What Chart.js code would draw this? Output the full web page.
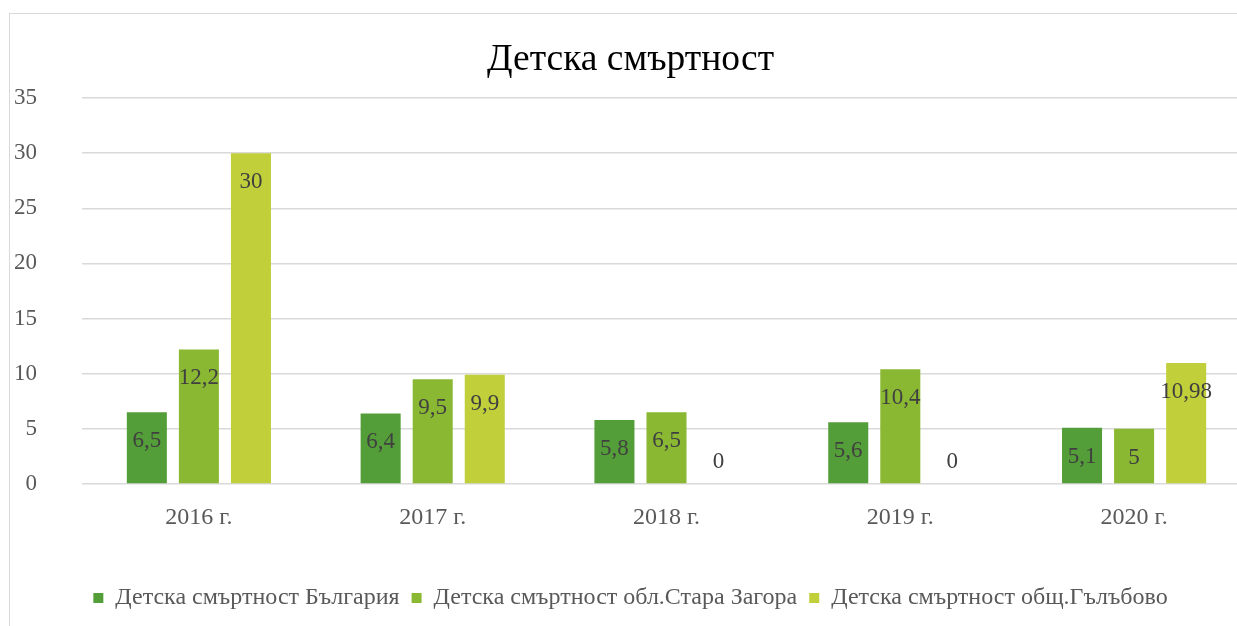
<!DOCTYPE html>
<html>
<head>
<meta charset="utf-8">
<script src="https://cdn.jsdelivr.net/npm/chart.js@4.4.1/dist/chart.umd.min.js"></script>
<style>
  html, body { margin: 0; padding: 0; background: #fff; overflow: hidden; width: 1237px; height: 626px; }
  #frame { position: absolute; left: 9px; top: 13px; width: 1241px; height: 613px;
           border-top: 1px solid #d9d9d9; border-left: 1px solid #d9d9d9; }
  #wrap { position: absolute; left: 0; top: 0; width: 1241px; height: 612px; }
</style>
</head>
<body>
<div id="frame"><div id="wrap"><canvas id="c"></canvas></div></div>
<script>
const categories = ['2016 г.', '2017 г.', '2018 г.', '2019 г.', '2020 г.'];
const seriesNames = ['Детска смъртност България', 'Детска смъртност обл.Стара Загора', 'Детска смъртност общ.Гълъбово'];
const bulgaria = [6.5, 6.4, 5.8, 5.6, 5.1];
const staraZagora = [12.2, 9.5, 6.5, 10.4, 5];
const galabovo = [30, 9.9, 0, 0, 10.98];
const yTicks = [0, 5, 10, 15, 20, 25, 30, 35];
const colors = ['#549E39', '#8AB833', '#C0CF3A'];

const SERIF = '"Liberation Serif", "Times New Roman", serif';
const BOTTOM_GAP = 6;

const dataLabels = {
  id: 'dataLabels',
  afterDatasetsDraw(chart) {
    const ctx = chart.ctx;
    ctx.save();
    ctx.font = '23px ' + SERIF;
    ctx.fillStyle = '#404040';
    ctx.textAlign = 'center';
    ctx.textBaseline = 'middle';
    chart.data.datasets.forEach((ds, i) => {
      const meta = chart.getDatasetMeta(i);
      meta.data.forEach((el, j) => {
        const v = ds.data[j];
        const y = v === 0 ? el.base - 22 : el.y + 29;
        ctx.fillText(String(v).replace('.', ','), el.x, y);
      });
    });
    ctx.restore();
  }
};

new Chart(document.getElementById('c'), {
  type: 'bar',
  data: {
    labels: categories,
    datasets: [
      { label: seriesNames[0], data: bulgaria, backgroundColor: colors[0] },
      { label: seriesNames[1], data: staraZagora, backgroundColor: colors[1] },
      { label: seriesNames[2], data: galabovo, backgroundColor: colors[2] }
    ]
  },
  options: {
    responsive: true,
    maintainAspectRatio: false,
    animation: false,
    layout: { padding: { left: 0, right: 0, top: 0, bottom: BOTTOM_GAP } },
    datasets: { bar: { categoryPercentage: 0.668, barPercentage: 0.769 } },
    plugins: {
      title: {
        display: true,
        text: 'Детска смъртност',
        color: '#000000',
        font: { family: SERIF, size: 37.5, weight: 'normal', lineHeight: 1.2 },
        padding: { top: 24, bottom: 15 }
      },
      legend: {
        position: 'bottom',
        labels: {
          color: '#595959',
          font: { family: SERIF, size: 24 },
          boxWidth: 10, boxHeight: 10,
          padding: 12
        }
      },
      tooltip: { enabled: false }
    },
    scales: {
      x: {
        grid: { display: false, drawTicks: false },
        border: { display: false },
        ticks: { color: '#595959', font: { family: SERIF, size: 24 }, padding: 19 },
        afterFit(scale) {
          const lh = scale.chart.legend ? scale.chart.legend.height : 0;
          scale.height = 612 - 470 - lh - BOTTOM_GAP;
        }
      },
      y: {
        min: 0, max: 35,
        afterBuildTicks(scale) { scale.ticks = yTicks.map(v => ({ value: v })); },
        grid: { color: '#d9d9d9', lineWidth: 1.5, drawTicks: false },
        border: { display: false },
        ticks: { color: '#595959', font: { family: SERIF, size: 23 }, padding: 45 },
        afterFit(scale) { scale.width = 72; }
      }
    }
  },
  plugins: [dataLabels]
});
</script>
</body>
</html>
